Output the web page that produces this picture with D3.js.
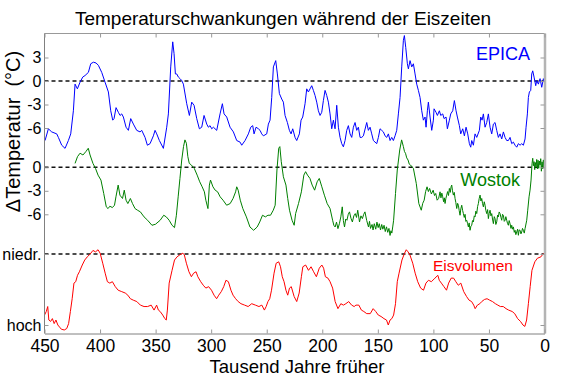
<!DOCTYPE html>
<html>
<head>
<meta charset="utf-8">
<script src="https://cdn.jsdelivr.net/npm/d3@7"></script>
<style>
body { margin: 0; background: #fff; }
svg { display: block; }
</style>
</head>
<body>
<div id="chart"></div>
<script>
// [age in ka, value] pairs
let epicaData = [
  [449.5,-7.6],[446.5,-6.1],[443.5,-6.5],[439,-6.75],[437.5,-7.2],[434.5,-8.2],[431.5,-8.6],[428.5,-7.6],[426.4,-6.75],[424,-3.8],
  [422.5,-0.4],[420.4,-1.0],[418,-0.15],[415.6,0.5],[413.5,0.7],[410.5,1.1],[408.4,2.2],[406,2.4],[403.6,2.3],[401.5,2.0],
  [398.5,1.1],[395.5,-0.15],[392.5,-1.4],[390.4,-3.8],[388.6,-5.0],[387.4,-4.8],[385.6,-3.4],[383.5,-4.0],[382,-4.4],[380.5,-4.2],
  [379,-4.6],[376.6,-5.9],[374.5,-6.3],[372.4,-4.8],[370,-5.5],[367,-6.3],[364,-6.5],[362.5,-6.3],[359.5,-7.2],[357.4,-8.2],
  [355,-8.0],[352,-7.0],[350.5,-6.3],[349,-6.75],[346.6,-7.6],[343,-8.6],[340,-5.9],[338.5,-4.2],[336.4,1.8],[334.6,5.0],
  [333.4,3.5],[332.2,0.9],[331,0.9],[329.5,0.5],[328,0.3],[326.5,0.06],[325,-0.4],[322,-2.9],[319.6,-4.4],[317.5,-2.7],
  [315.4,-3.1],[313,-4.8],[310.6,-6.1],[308.5,-5.9],[306.4,-4.4],[304,-5.5],[302.5,-5.9],[301,-5.7],[299.5,-6.1],[298,-5.9],
  [295,-6.3],[292,-4.2],[289.9,-2.9],[288.4,-4.2],[286,-4.6],[283,-5.9],[280,-6.5],[277,-7.6],[274,-7.8],[272.5,-8.2],
  [269.5,-7.6],[266.5,-6.75],[264.4,-5.9],[262.6,-5.7],[261.4,-6.75],[259.6,-5.9],[257.5,-6.1],[256,-6.3],[254.5,-6.75],[253,-7.0],
  [250,-6.75],[248.5,-5.5],[247,-5.0],[245.5,-2.1],[244,1.8],[241.9,2.6],[240.4,0.9],[238.6,-1.6],[236.5,-2.3],[235,-2.7],
  [233.5,-4.4],[231.4,-5.3],[229.6,-6.3],[228.1,-6.75],[226.6,-6.1],[224.5,-7.2],[223,-7.6],[220.6,-6.75],[219.1,-5.0],[217.6,-4.6],
  [215.5,-2.9],[214,-1.0],[212.5,-1.4],[211,-1.0],[209.5,-0.6],[208,-1.2],[206.5,-1.85],[205,-2.7],[203.5,-3.8],[202,-4.4],
  [200.5,-4.0],[199,-2.5],[197.5,-1.2],[196,-1.85],[194.5,-2.7],[193,-4.2],[191.5,-6.1],[190,-5.0],[188.5,-6.1],[187,-3.1],
  [185.5,-5.9],[184,-7.2],[182.5,-8.0],[181,-8.4],[179.5,-7.6],[178,-6.3],[176.5,-5.7],[175,-6.75],[173.5,-7.2],[172,-5.9],
  [170.5,-5.3],[169,-6.3],[167.5,-5.9],[166,-7.2],[164.5,-7.2],[163,-7.0],[160,-5.3],[158.5,-6.3],[157,-5.9],[155.5,-6.75],
  [154,-7.6],[151,-8.0],[149.5,-7.2],[148,-6.1],[146.5,-6.3],[145,-6.5],[143.5,-7.0],[142,-7.2],[140.5,-6.75],[139,-7.6],
  [137.5,-7.2],[136,-7.6],[134.5,-7.0],[133,-6.3],[131.5,-4.2],[130,-2.1],[128.5,1.8],[127,5.2],[126.1,5.8],[124.9,4.3],
  [123.4,2.2],[122.5,1.55],[121,2.6],[119.5,1.8],[118,2.2],[116.5,0.9],[115,-0.4],[113.5,-1.2],[112,-2.1],[110.5,-3.8],
  [109,-5.0],[107.5,-4.6],[106.6,-5.9],[105.4,-3.8],[104.5,-2.7],[103,-4.6],[101.5,-6.3],[100,-5.0],[99.4,-3.55],[97.6,-4.0],
  [96.4,-4.4],[94.6,-3.8],[93.4,-4.4],[91.6,-4.2],[90.4,-4.8],[88.6,-4.6],[87.4,-6.1],[85.6,-5.0],[84.4,-4.2],[82.6,-3.8],
  [81.1,-2.5],[79.6,-3.8],[78.4,-4.6],[76.6,-5.7],[75.4,-6.75],[73.6,-6.1],[72.1,-7.0],[70.6,-5.9],[69.1,-6.75],[67.6,-8.0],
  [66.4,-8.45],[65.5,-7.6],[64,-8.2],[62.5,-6.75],[61,-7.2],[58.6,-6.3],[57.4,-4.6],[56.2,-5.0],[55,-4.2],[53.5,-5.9],
  [52,-5.3],[50.5,-4.2],[49,-5.9],[47.5,-6.75],[46,-5.5],[44.5,-5.3],[43,-6.3],[41.5,-7.2],[40,-6.75],[38.5,-7.4],
  [37,-6.5],[35.5,-7.2],[34,-7.6],[32.5,-7.6],[31,-7.2],[29.5,-8.0],[28,-7.8],[26.5,-8.2],[25,-8.45],[23.5,-8.0],
  [22,-8.2],[20.5,-8.0],[19,-8.2],[17.5,-7.4],[16.6,-5.9],[15.4,-4.2],[14.5,-2.1],[13.6,-1.4],[12.4,-1.2],[11.5,0.9],
  [10.6,1.3],[9.4,0.5],[7.9,-0.6],[7,0.06],[5.5,-0.4],[4,0.3],[2.5,-0.8],[1,0.3],[0.4,-0.15]
];

let wostokData = [
  [422.5,0.5],[420.3,1.36],[418,1.8],[415.4,1.57],[412.8,2.0],[410.6,2.43],[409,1.57],[406.4,0.5],[404.1,-0.14],[401.8,-1.0],
  [399.2,-1.63],[396.7,-3.34],[394.4,-5.05],[392.8,-5.27],[391.2,-4.97],[388.9,-5.14],[387,-4.84],[385.7,-3.77],[383.7,-2.27],[382.1,-3.56],
  [379.8,-3.98],[378.2,-2.92],[376.6,-4.2],[375,-4.63],[372.7,-3.98],[370.8,-4.63],[368.5,-5.27],[366.3,-5.48],[363.7,-5.69],[360.4,-6.33],
  [357.2,-6.76],[353.3,-7.4],[350.1,-7.27],[345.9,-6.76],[342.7,-6.12],[340.4,-6.33],[337.8,-6.76],[335.2,-7.4],[333,-7.7],[331.3,-6.12],
  [329.7,-3.77],[328.1,-1.42],[326.5,0.93],[324.9,2.64],[323.6,3.5],[322.3,3.07],[321,1.36],[319.7,0.5],[317.8,0.29],[315.2,-0.14],
  [312.6,-1.0],[310.3,-1.85],[308.1,-2.49],[306.1,-3.13],[304.8,-4.2],[302.9,-5.27],[301.6,-2.27],[300.6,-1.63],[298.4,-2.49],[296.4,-2.92],
  [294.2,-3.13],[291.9,-3.77],[289.3,-4.2],[286.1,-4.84],[282.9,-4.63],[280.3,-3.98],[278,-3.13],[277,-2.49],[275.7,-2.92],[273.8,-4.2],
  [271.5,-5.27],[268.3,-6.33],[265.1,-7.62],[261.8,-8.04],[258.6,-7.62],[256.3,-6.98],[253.8,-6.12],[251.2,-6.33],[248.9,-6.12],[246.6,-6.12],
  [244.1,-5.48],[242.4,-4.84],[240.8,-0.35],[239.2,2.43],[238.2,2.64],[236.9,0.72],[235,-1.21],[232.7,-2.27],[231.1,-3.98],[229.5,-5.48],
  [227.2,-6.76],[225.3,-7.4],[224,-5.91],[221.4,-4.63],[218.8,-3.13],[216.6,-1.0],[215,-0.56],[213.3,-1.0],[211.1,-1.42],[209.1,-2.27],
  [206.9,-2.92],[204.6,-1.85],[202.7,-1.42],[200.4,-2.49],[198.1,-3.56],[195.6,-4.63],[193,-5.27],[190.7,-6.76],[189.6,-7.4],[188.4,-7.62],
  [187.2,-7.0],[185.9,-7.83],[184.6,-7.2],[183.3,-6.33],[182,-5.05],[181,-6.8],[180,-7.62],[178.9,-6.6],[177.8,-6.76],[176.6,-6.0],
  [175.5,-5.69],[174.2,-6.5],[172.9,-6.98],[171.6,-6.2],[170.3,-5.91],[169.2,-6.4],[168.1,-5.48],[166.5,-6.98],[165.2,-6.2],[163.9,-6.55],
  [162.7,-6.0],[161.6,-5.69],[160,-6.8],[158.4,-7.62],[157.5,-6.9],[156.6,-7.8],[155.2,-7.3],[154.3,-8.0],[153.2,-7.2],[151.9,-7.9],
  [150.8,-7.0],[149.7,-7.7],[148.7,-7.2],[147.6,-8.0],[146.5,-7.3],[145.5,-7.9],[144.4,-7.4],[143.3,-8.2],[142.2,-7.6],[141.1,-8.3],
  [140,-7.8],[139,-8.7],[138.2,-8.1],[137.4,-8.4],[136.5,-7.5],[135.8,-6.76],[134.1,-3.34],[132.5,-0.35],[130.3,2.21],[128.6,3.5],
  [127,2.64],[126,2.0],[125.1,1.79],[124,1.2],[122.8,0.93],[121.7,0.4],[120.6,0.29],[118,-0.14],[115.4,-2.06],[113.1,-4.63],
  [110.9,-5.48],[109.6,-4.6],[108.3,-4.2],[107,-3.1],[105.7,-2.49],[104.5,-3.1],[103.4,-2.7],[101.8,-3.4],[100.2,-2.92],[99,-3.6],
  [97.9,-3.34],[96.6,-4.2],[95.3,-3.98],[94,-3.13],[93.2,-3.9],[92.4,-3.3],[91.6,-3.77],[90.8,-4.4],[90.1,-3.9],[89.5,-4.62],
  [88.8,-4.0],[88,-3.55],[87.2,-3.1],[86.4,-3.6],[85.6,-2.7],[84.8,-3.2],[84.1,-2.5],[83.5,-2.27],[82.8,-3.0],[82,-3.55],
  [81.2,-3.2],[80.5,-3.98],[79.8,-4.5],[79,-5.26],[78.2,-4.6],[77.5,-4.84],[76.8,-5.5],[76,-6.12],[75.3,-5.3],[74.5,-4.84],
  [73.7,-5.5],[73,-5.91],[72.2,-6.4],[71.5,-6.0],[70.8,-6.9],[70,-6.76],[69.2,-7.2],[68.5,-7.61],[67.8,-7.1],[67,-8.04],
  [66.2,-7.5],[65.5,-7.4],[64.8,-6.8],[64,-6.97],[63.2,-6.2],[62.5,-6.33],[61.8,-5.6],[61,-5.91],[60.2,-5.0],[59.5,-4.62],
  [58.8,-4.0],[58,-3.55],[57.2,-4.3],[56.5,-3.98],[55.8,-4.6],[55,-5.05],[54.2,-4.4],[53.5,-4.84],[52.8,-5.5],[52,-5.91],
  [51.2,-5.4],[50.5,-6.55],[49.8,-5.9],[49,-5.48],[48.2,-6.2],[47.5,-5.91],[46.8,-6.6],[46,-7.19],[45.2,-6.3],[44.5,-6.55],
  [43.8,-7.3],[43,-6.97],[42.2,-6.1],[41.5,-6.33],[40.8,-5.7],[40,-5.91],[39.2,-6.4],[38.5,-6.76],[37.8,-6.0],[37,-6.12],
  [36.2,-6.9],[35.5,-6.76],[34.8,-6.3],[34,-6.76],[33.2,-7.2],[32.5,-7.4],[31.8,-6.8],[31,-7.19],[30.2,-7.8],[29.5,-7.4],
  [28.8,-7.9],[28,-7.61],[27.2,-8.3],[26.5,-8.04],[25.8,-8.6],[25,-8.26],[24.2,-7.9],[23.5,-8.68],[22.8,-8.0],[22,-8.04],
  [21.2,-8.5],[20.5,-8.26],[19.8,-7.8],[19,-8.04],[18.2,-8.4],[17.5,-7.83],[16,-6.76],[15.1,-5.48],[13.9,-3.77],[13,-2.91],
  [12.1,-1.63],[11.2,0.51],[10.6,1.15],[10,0.2],[9.4,0.72],[8.8,-0.3],[8.2,0.6],[7.6,0.08],[7,1.0],[6.4,-0.2],
  [5.8,0.9],[5.2,-0.13],[4.6,0.8],[4,0.3],[3.4,1.1],[2.8,-0.5],[2.2,0.7],[1.6,-0.2],[1,0.94],[0.4,0.1],
  [0,1.2]
];

// ice volume: 0 = "niedr.", 1 = "hoch"
let iceData = [
  [450,0.86],[448.4,0.81],[447.1,0.74],[446.1,0.93],[444.5,0.95],[442.9,0.91],[441.3,0.98],[439.7,0.93],[438,1.0],[436.4,1.03],
  [434.8,1.06],[432.2,1.07],[430,1.05],[428.3,0.98],[426.7,0.81],[425.1,0.63],[423.5,0.41],[421.9,0.39],[420.3,0.30],[418.6,0.25],
  [416,0.155],[413.8,0.085],[411.5,0.04],[408.9,0.0],[406.4,-0.05],[404.1,-0.03],[401.8,-0.06],[399.9,-0.01],[397.6,0.13],[395.4,0.27],
  [393.4,0.39],[391.2,0.41],[388.9,0.39],[386.3,0.46],[383.7,0.51],[380.5,0.53],[377.3,0.55],[375,0.58],[372.7,0.63],[370.1,0.65],
  [366.9,0.67],[363.7,0.72],[360.4,0.74],[357.2,0.74],[354,0.72],[351.4,0.79],[349.1,0.72],[347.5,0.79],[345.9,0.81],[343.6,0.86],
  [341.7,0.91],[340.4,0.93],[339.4,0.79],[337.8,0.41],[335.2,0.23],[333,0.085],[330.7,0.04],[328.1,0.01],[325.5,-0.01],[324.2,0.01],
  [322.3,0.13],[320,0.25],[317.8,0.32],[315.8,0.27],[313.6,0.25],[312,0.32],[309.4,0.39],[307.1,0.44],[304.8,0.48],[302.3,0.46],
  [299.7,0.51],[297.4,0.58],[295.1,0.63],[293.2,0.58],[290.9,0.53],[288.7,0.46],[286.7,0.37],[284.5,0.39],[282.2,0.51],[280.3,0.58],
  [278,0.63],[275.7,0.67],[273.2,0.70],[269.9,0.72],[266.7,0.74],[263.5,0.70],[260.2,0.72],[257,0.74],[254.4,0.72],[252.1,0.79],
  [250.5,0.74],[248.9,0.67],[247.3,0.63],[245.7,0.51],[243.4,0.27],[241.5,0.13],[239.2,0.11],[237.6,0.18],[236,0.32],[234.4,0.39],
  [232.7,0.51],[231.1,0.58],[229.5,0.48],[227.9,0.46],[225.3,0.60],[223,0.67],[220.8,0.55],[218.8,0.32],[217.5,0.18],[215,0.155],
  [212.4,0.23],[210.1,0.18],[207.8,0.25],[205.3,0.32],[202.7,0.20],[200.4,0.155],[198.8,0.20],[197.2,0.32],[194.9,0.34],[193,0.39],
  [190.7,0.48],[188.4,0.67],[185.9,0.77],[183.3,0.70],[181,0.72],[178.8,0.70],[176.2,0.67],[173.6,0.72],[171.3,0.74],[169.7,0.72],
  [167.1,0.72],[164.8,0.79],[162.6,0.81],[160,0.84],[156.8,0.84],[154.2,0.77],[151.9,0.81],[149.6,0.86],[147.1,0.88],[144.5,0.91],
  [142.2,0.93],[140.6,1.0],[139,0.93],[137.4,0.91],[135.8,0.86],[134.1,0.70],[132.5,0.39],[130.9,0.27],[128.3,0.085],[126,-0.01],
  [124.4,-0.06],[122.8,-0.03],[121.2,0.01],[118.6,0.13],[116.4,0.27],[114.1,0.39],[111.5,0.48],[108.9,0.51],[106.7,0.41],[104.4,0.37],
  [101.8,0.39],[98.6,0.34],[96,0.30],[94.7,0.37],[92.8,0.41],[90.5,0.46],[88.2,0.51],[86.3,0.41],[84,0.34],[81.8,0.34],
  [79.8,0.39],[77.6,0.44],[75.3,0.41],[72.7,0.53],[70.1,0.60],[67.9,0.65],[65.6,0.67],[63.7,0.72],[62.4,0.77],[60.4,0.72],
  [58.2,0.70],[56.5,0.67],[54,0.64],[51.7,0.63],[49.4,0.65],[46.8,0.67],[44.2,0.70],[42,0.72],[39.7,0.74],[37.1,0.74],
  [34.6,0.77],[32.3,0.79],[29.1,0.81],[26.8,0.84],[24.2,0.91],[21.6,0.95],[19.4,1.0],[17.7,1.02],[16.1,0.93],[14.5,0.70],
  [12.9,0.46],[11.3,0.23],[8.7,0.11],[6.4,0.06],[3.2,0.04],[0.9,-0.01]
];

let xTickValues = [450, 400, 350, 300, 250, 200, 150, 100, 50, 0];
let epicaTicks = [3, 0, -3, -6];
let wostokTicks = [0, -3, -6];
let iceTicks = [0, 1];
let iceTickLabels = ["niedr.", "hoch"];
let seriesNames = ["EPICA", "Wostok", "Eisvolumen"];
let seriesColors = ["#0000ff", "#007f00", "#ff0000"];

let width = 564;
let height = 377;
let font = "'Liberation Sans', Arial, sans-serif";

// plot box
let plotLeft = 44.5, plotRight = 544.5, plotTop = 33.5, plotBottom = 333.5;

var svg = d3.select("#chart")
    .append("svg")
    .attr("width", width)
    .attr("height", height)
    .style("font-family", font);

svg.append("rect")
    .attr("width", width)
    .attr("height", height)
    .attr("fill", "#fff");

var x = d3.scaleLinear().domain([450, 0]).range([plotLeft, plotRight]);
var yEpica = d3.scaleLinear().domain([0, -6]).range([81, 128]);
var yWostok = d3.scaleLinear().domain([0, -6]).range([167.3, 214.3]);
var yIce = d3.scaleLinear().domain([0, 1]).range([254, 325]);

// dashed reference lines
[[yEpica, 0], [yWostok, 0], [yIce, 0]].forEach(function (r) {
    svg.append("line")
        .attr("x1", x(450)).attr("x2", x(0))
        .attr("y1", r[0](r[1])).attr("y2", r[0](r[1]))
        .attr("stroke", "#111")
        .attr("stroke-width", 1.6)
        .attr("stroke-dasharray", "4,3");
});

// curves
function drawLine(data, yScale, color) {
    var line = d3.line()
        .x(function (d) { return x(d[0]) })
        .y(function (d) { return yScale(d[1]) });
    svg.append("path")
        .datum(data)
        .attr("d", line)
        .attr("fill", "none")
        .attr("stroke", color)
        .attr("stroke-width", 1)
        .attr("stroke-linejoin", "round");
}
drawLine(epicaData, yEpica, seriesColors[0]);
drawLine(wostokData, yWostok, seriesColors[1]);
drawLine(iceData, yIce, seriesColors[2]);

// box
svg.append("line").attr("x1", plotLeft).attr("x2", plotRight).attr("y1", plotTop).attr("y2", plotTop)
    .attr("stroke", "#999");
svg.append("line").attr("x1", plotLeft).attr("x2", plotLeft).attr("y1", plotTop).attr("y2", plotBottom)
    .attr("stroke", "#808080");
svg.append("line").attr("x1", plotRight + 0.5).attr("x2", plotRight + 0.5).attr("y1", plotTop).attr("y2", plotBottom)
    .attr("stroke", "#b4b4b4").attr("stroke-width", 2.5);

function styleAxis(g, size) {
    g.attr("font-size", size).attr("font-family", font);
    g.selectAll(".tick line").attr("stroke", "#999");
    g.selectAll(".tick text").attr("fill", "#000");
}

// bottom axis
var gx = svg.append("g")
    .attr("transform", "translate(0," + plotBottom + ")")
    .call(d3.axisBottom(x).tickValues(xTickValues).tickSizeInner(-4).tickSizeOuter(0).tickPadding(6));
gx.select(".domain").attr("stroke", "#808080");
styleAxis(gx, 17.5);

// top ticks
var gt = svg.append("g")
    .attr("transform", "translate(0," + plotTop + ")")
    .call(d3.axisTop(x).tickValues(xTickValues).tickSizeInner(-4).tickSizeOuter(0).tickFormat(""));
gt.select(".domain").remove();
styleAxis(gt, 10);

// left axes (with matching ticks on the right edge)
function leftAxis(scale, ticks, fmt) {
    var g = svg.append("g")
        .attr("transform", "translate(" + plotLeft + ",0)")
        .call(d3.axisLeft(scale).tickValues(ticks).tickSizeInner(-4).tickSizeOuter(0).tickPadding(3).tickFormat(fmt));
    g.select(".domain").remove();
    styleAxis(g, 16);
    var r = svg.append("g")
        .attr("transform", "translate(" + plotRight + ",0)")
        .call(d3.axisRight(scale).tickValues(ticks).tickSizeInner(-4).tickSizeOuter(0).tickFormat(""));
    r.select(".domain").remove();
    styleAxis(r, 10);
}
leftAxis(yEpica, epicaTicks, function (d) { return String(d) });
leftAxis(yWostok, wostokTicks, function (d) { return String(d) });
leftAxis(yIce, iceTicks, function (d, i) { return iceTickLabels[i] });

// titles
svg.append("text")
    .attr("x", 283).attr("y", 25)
    .attr("text-anchor", "middle")
    .attr("font-size", 19)
    .text("Temperaturschwankungen während der Eiszeiten");

svg.append("text")
    .attr("x", 297).attr("y", 372.5)
    .attr("text-anchor", "middle")
    .attr("font-size", 18.5)
    .text("Tausend Jahre früher");

svg.append("text")
    .attr("transform", "translate(20,131.5) rotate(-90)")
    .attr("text-anchor", "middle")
    .attr("font-size", 20)
    .style("white-space", "pre")
    .text("ΔTemperatur  (°C)");

// series labels
svg.append("text")
    .attr("x", 530).attr("y", 60)
    .attr("text-anchor", "end")
    .attr("font-size", 18)
    .attr("fill", seriesColors[0])
    .text(seriesNames[0]);

svg.append("text")
    .attr("x", 520).attr("y", 186)
    .attr("text-anchor", "end")
    .attr("font-size", 18)
    .attr("fill", seriesColors[1])
    .text(seriesNames[1]);

svg.append("text")
    .attr("x", 513).attr("y", 271)
    .attr("text-anchor", "end")
    .attr("font-size", 15.5)
    .attr("fill", seriesColors[2])
    .text(seriesNames[2]);
</script>
</body>
</html>
